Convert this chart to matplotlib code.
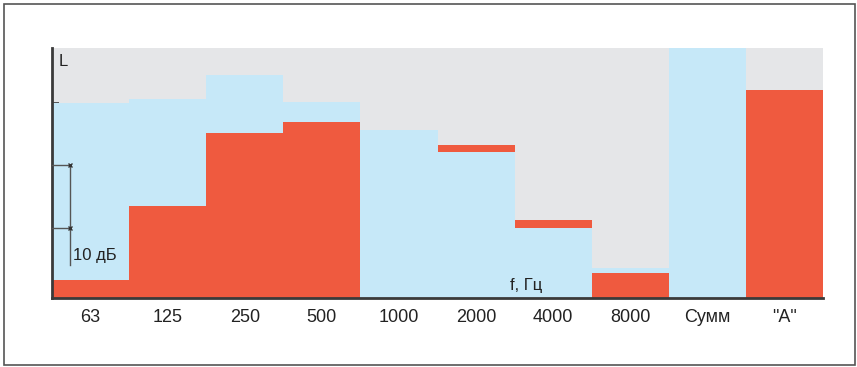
import matplotlib.pyplot as plt
from matplotlib.patches import Rectangle
import numpy as np

plt.rcParams['font.family'] = ['Liberation Sans Narrow', 'Liberation Sans', 'DejaVu Sans']

# bands (Hz) and levels in dB above the baseline
categories = ["63", "125", "250", "500", "1000", "2000", "4000", "8000", "Сумм", '"A"']
blue_levels = [31.2, 31.8, 35.7, 31.4, 26.9, 23.4, 11.2, 4.8, 40.0, 0.0]
red_levels = [2.9, 14.7, 26.4, 28.2, 0.0, 24.5, 12.5, 4.0, 0.0, 33.3]
blue_on_top = [False, False, False, False, True, True, True, False, True, False]

BLUE = "#c6e8f8"
RED = "#ef5a3f"
GRAY = "#e5e6e8"
DARK = "#3a3a3a"

fig = plt.figure(figsize=(8.57, 3.67), dpi=100)
fig.patches.append(Rectangle((4 / 857, 2 / 367), 851 / 857, 361 / 367,
                             transform=fig.transFigure, fill=False,
                             edgecolor="#555555", linewidth=1.2))

ax = fig.add_axes([52 / 857, 69 / 367, 771 / 857, 250 / 367])
ax.set_facecolor(GRAY)

x = np.arange(len(categories))
for i in x:
    zb, zr = (3, 2) if blue_on_top[i] else (2, 3)
    ax.bar(i, blue_levels[i], width=1.0, color=BLUE, zorder=zb, linewidth=0)
    ax.bar(i, red_levels[i], width=1.0, color=RED, zorder=zr, linewidth=0)

ax.set_xlim(-0.5, len(categories) - 0.5)
ax.set_ylim(0, 40)

for side in ["top", "right"]:
    ax.spines[side].set_visible(False)
for side in ["left", "bottom"]:
    ax.spines[side].set_color(DARK)
    ax.spines[side].set_linewidth(2)
    ax.spines[side].set_zorder(5)

ax.set_xticks(x)
ax.set_xticklabels(categories, fontsize=13, color="#222222")
ax.tick_params(axis="x", direction="in", length=5, width=1.2, color=DARK, pad=8)
ax.set_yticks([31.2])
ax.set_yticklabels([])
ax.tick_params(axis="y", direction="in", length=5, width=1.2, color=DARK)

# 10 dB scale bracket
y1, y2 = 21.3, 11.2
bx = -0.265
ax.plot([-0.5, bx], [y1, y1], color="#555555", lw=1, zorder=6, clip_on=False)
ax.plot([-0.5, bx], [y2, y2], color="#555555", lw=1, zorder=6)
ax.plot([bx, bx], [y1, 5.3], color="#555555", lw=1, zorder=6)
ax.plot([bx, bx], [y1, y2], ls="none", marker="x", ms=3, mew=1, color="#333333", zorder=7)
ax.text(bx + 0.04, 6.8, "10 дБ", fontsize=12, color="#222222", va="center", zorder=7)

ax.text(-0.42, 37.8, "L", fontsize=12, color="#222222", va="center", zorder=7)
ax.text(5.44, 2.0, "f, Гц", fontsize=12, color="#222222", va="center", zorder=7)

plt.savefig("out.png", dpi=100)
